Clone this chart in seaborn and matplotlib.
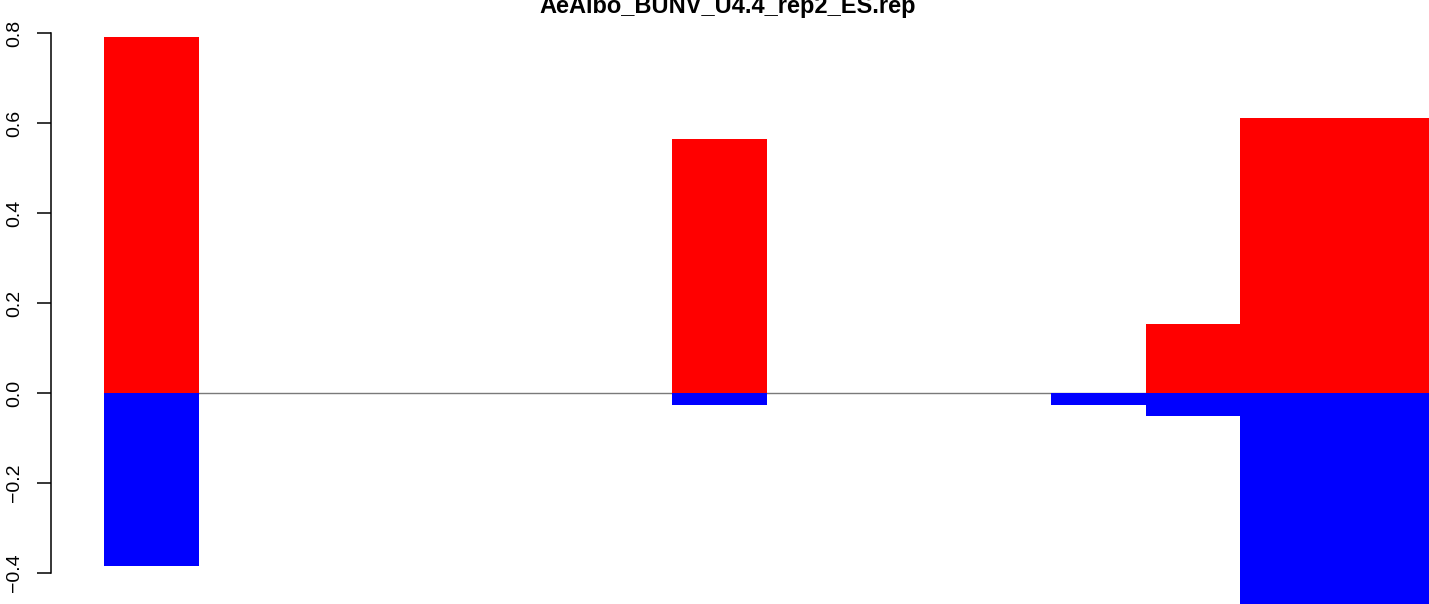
import numpy as np
import pandas as pd
import seaborn as sns
import matplotlib
matplotlib.use('Agg')
import matplotlib.pyplot as plt

sns.set_style('white')
plt.rcParams['font.family'] = ['Liberation Sans', 'DejaVu Sans']

title = 'AeAlbo_BUNV_U4.4_rep2_ES.rep'
slots = list(range(14))
pos_vals = [0.791, 0, 0, 0, 0, 0, 0.564, 0, 0, 0, 0, 0.153, 0.612, 0.612]
neg_vals = [-0.384, 0, 0, 0, 0, 0, -0.026, 0, 0, 0, -0.027, -0.051, -0.48, -0.48]
yticks = [-0.4, -0.2, 0.0, 0.2, 0.4, 0.6, 0.8]

df = pd.DataFrame({'slot': slots, 'pos': pos_vals, 'neg': neg_vals})

fig = plt.figure(figsize=(14.29, 6.04), dpi=100)
ax = fig.add_axes([0, 0, 1, 1])

# zero line under the bars
ax.hlines(0, min(slots) - 0.5, max(slots) + 2, color='#7a7a7a', lw=1, zorder=0)

sns.barplot(data=df, x='slot', y='pos', color='#ff0000', native_scale=True,
            width=1, saturation=1, linewidth=0, ax=ax, zorder=2)
sns.barplot(data=df, x='slot', y='neg', color='#0000ff', native_scale=True,
            width=1, saturation=1, linewidth=0, ax=ax, zorder=2)

# pixel layout of the R plot: slot 0 starts at x=104px, slot width ~94.7px
slot_px = 94.7
x0 = -0.5 - 104 / slot_px
x1 = -0.5 + (1429 - 104) / slot_px
ax.set_xlim(x0, x1)
ax.set_ylim(-(604 - 393) / 449.5, 393 / 449.5)

ax.set_xlabel('')
ax.set_ylabel('')
ax.set_xticks([])
for s in ['top', 'right', 'bottom']:
    ax.spines[s].set_visible(False)
ax.spines['left'].set_position(('data', -0.5 - (104 - 51) / slot_px))
ax.spines['left'].set_bounds(yticks[0], yticks[-1])
ax.spines['left'].set_linewidth(1.1)
ax.spines['left'].set_color('black')
ax.set_yticks(yticks)
ax.set_yticklabels(['\u22120.4', '\u22120.2', '0.0', '0.2', '0.4', '0.6', '0.8'],
                   rotation=90, va='center', fontsize=14)
ax.tick_params(axis='y', direction='out', length=10, width=1.1, pad=10, left=True,
               color='black', labelcolor='black')
ax.patch.set_alpha(0)

fig.text(0.509, 1 - 13 / 604, title, ha='center', va='baseline',
         fontsize=17, fontweight='bold', color='black')

fig.savefig('out.png', dpi=100)
